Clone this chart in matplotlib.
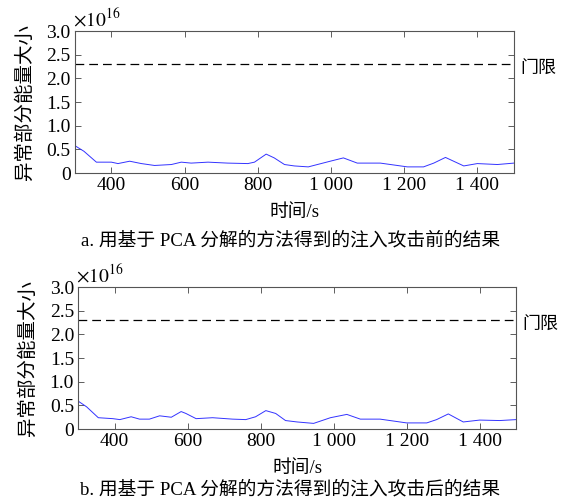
import matplotlib
matplotlib.use("Agg")
import matplotlib.pyplot as plt

# =====================================
# Data (values in units of 1e16)
# =====================================

t_a = [300, 325, 359, 400, 418, 450, 482, 518, 564, 591, 618, 664, 718, 773, 791,
       823, 845, 873, 900, 938, 998, 1034, 1072, 1135, 1209, 1253, 1281, 1313,
       1363, 1400, 1455, 1500]
e_a = [0.58, 0.46, 0.23, 0.23, 0.20, 0.25, 0.20, 0.16, 0.18, 0.23, 0.21, 0.23, 0.21,
       0.20, 0.23, 0.40, 0.32, 0.18, 0.15, 0.13, 0.25, 0.32, 0.21, 0.21, 0.13, 0.13,
       0.21, 0.33, 0.15, 0.20, 0.18, 0.21]

t_b = [300, 323, 355, 395, 414, 445, 468, 495, 523, 555, 582, 595, 623, 668, 723,
       759, 786, 814, 841, 868, 900, 945, 991, 1036, 1073, 1127, 1200, 1255, 1282,
       1314, 1355, 1400, 1455, 1500]
e_b = [0.59, 0.47, 0.24, 0.22, 0.20, 0.26, 0.21, 0.21, 0.28, 0.25, 0.37, 0.33, 0.22,
       0.24, 0.21, 0.20, 0.26, 0.39, 0.33, 0.18, 0.15, 0.12, 0.24, 0.31, 0.21, 0.21,
       0.13, 0.13, 0.20, 0.32, 0.15, 0.19, 0.18, 0.20]

threshold = 2.3

x_ticks = [400, 600, 800, 1000, 1200, 1400]
x_labels = ["400", "600", "800", "1 000", "1 200", "1 400"]
y_ticks = [0, 0.5, 1.0, 1.5, 2.0, 2.5, 3.0]
y_labels = ["0", "0.5", "1.0", "1.5", "2.0", "2.5", "3.0"]

captions = ["a. 用基于 PCA 分解的方法得到的注入攻击前的结果",
            "b. 用基于 PCA 分解的方法得到的注入攻击后的结果"]

# =====================================
# Style
# =====================================

plt.rcParams["font.family"] = ["Liberation Serif", "Noto Sans CJK SC"]
plt.rcParams["mathtext.fontset"] = "stix"

fig = plt.figure(figsize=(5.71, 5.03), dpi=100)

boxes = [[0.131, 0.656, 0.769, 0.282], [0.137, 0.147, 0.767, 0.282]]
series = [(t_a, e_a), (t_b, e_b)]
xlabel_y = [0.577, 0.068]
caption_y = [0.522, 0.026]

for i in range(2):
    ax = fig.add_axes(boxes[i])
    t, e = series[i]
    ax.plot(t, e, color="#3333ff", linewidth=0.7)
    ax.axhline(threshold, color="black", linewidth=0.9, dashes=(7, 4))
    ax.set_xlim(300, 1500)
    ax.set_ylim(0, 3.0)
    ax.set_xticks(x_ticks)
    ax.set_xticklabels(x_labels)
    ax.set_yticks(y_ticks)
    ax.set_yticklabels(y_labels)
    ax.tick_params(direction="in", top=True, right=True, labelsize=14,
                   length=4, width=0.6, colors="#444444", labelcolor="black", pad=3)
    for s in ax.spines.values():
        s.set_linewidth(0.8)
        s.set_color("#555555")

    ax.text(-0.005, 1.01, r"$\times 10^{16}$", transform=ax.transAxes,
            fontsize=14, ha="left", va="bottom")
    ax.text(1.015, (threshold - 0.08) / 3.0, "门限", transform=ax.transAxes,
            fontsize=13, ha="left", va="center", fontweight="light")
    ax.set_ylabel("异常部分能量大小", fontsize=14, labelpad=9, fontweight="light")

    x_mid = boxes[i][0] + boxes[i][2] / 2
    fig.text(x_mid, xlabel_y[i], "时间/s", fontsize=13.5, ha="center", va="center",
             fontweight="light")
    fig.text(0.508, caption_y[i], captions[i], fontsize=13.5,
             ha="center", va="center", fontweight="light")

fig.savefig("out.png", dpi=100)
